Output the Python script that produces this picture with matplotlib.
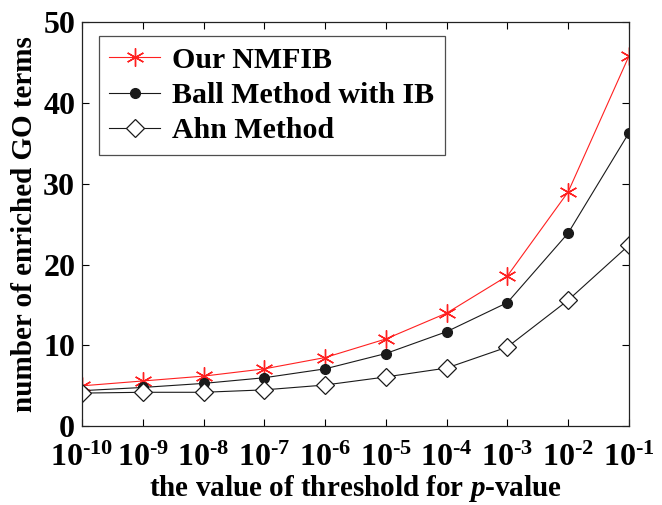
import matplotlib
matplotlib.use("Agg")
import matplotlib.pyplot as plt
import numpy as np

# threshold values and counts
thresholds = [1e-10, 1e-9, 1e-8, 1e-7, 1e-6, 1e-5, 1e-4, 1e-3, 1e-2, 1e-1]
nmfib = [5.0, 5.6, 6.2, 7.1, 8.5, 10.8, 14.0, 18.6, 29.0, 45.8]
ball_ib = [4.4, 4.8, 5.3, 6.0, 7.1, 9.0, 11.7, 15.3, 23.9, 36.3]
ahn = [4.1, 4.2, 4.2, 4.5, 5.1, 6.1, 7.2, 9.8, 15.6, 22.4]

labels = ["Our NMFIB", "Ball Method with IB", "Ahn Method"]
yticks = [0, 10, 20, 30, 40, 50]

plt.rcParams['font.family'] = 'Liberation Serif'
plt.rcParams['font.weight'] = 'bold'
plt.rcParams['mathtext.fontset'] = 'custom'
plt.rcParams['mathtext.rm'] = 'Liberation Serif:bold'
plt.rcParams['mathtext.it'] = 'Liberation Serif:italic:bold'
plt.rcParams['mathtext.bf'] = 'Liberation Serif:bold'

fig = plt.figure(figsize=(6.62, 5.05), dpi=100)
ax = fig.add_axes([0.124, 0.156, 0.826, 0.80])

ax.plot(thresholds, nmfib, color='#ff2020', lw=0.8, marker=(6, 2, 0),
        ms=13, mew=1.0, label=labels[0])
ax.plot(thresholds, ball_ib, color='#1a1a1a', lw=0.8, marker='o',
        ms=7, label=labels[1])
ax.plot(thresholds, ahn, color='#1a1a1a', lw=0.8, marker='D', ms=9,
        mfc='white', mew=0.9, label=labels[2])

ax.set_xscale('log')
ax.set_xlim(1e-10, 1e-1)
ax.set_ylim(0, 50)
ax.set_yticks(yticks)
ax.set_xticks(thresholds)
ax.xaxis.set_minor_locator(matplotlib.ticker.NullLocator())
ax.set_xticklabels([r'$10^{\text{-%d}}$' % -int(round(np.log10(t))) for t in thresholds])

ax.tick_params(direction='in', top=True, right=True, labelsize=23, length=5,
               width=0.8)
ax.tick_params(axis='x', pad=13)
ax.tick_params(axis='y', pad=5)
for s in ax.spines.values():
    s.set_linewidth(0.9)
    s.set_color('#222222')

ax.set_xlabel(r'the value of threshold for $\it{p}$-value', fontsize=21,
              fontweight='bold', labelpad=0)
ax.set_ylabel('number of enriched GO terms', fontsize=21, fontweight='bold',
              labelpad=4)

leg = ax.legend(loc='upper left', bbox_to_anchor=(0.02, 0.98), fontsize=21.5,
                frameon=True, fancybox=False, edgecolor='#222222',
                handlelength=1.7, borderpad=0.35, labelspacing=0.28,
                handletextpad=0.4, borderaxespad=0.2)
leg.get_frame().set_linewidth(0.9)

fig.savefig('out.png', dpi=100)
